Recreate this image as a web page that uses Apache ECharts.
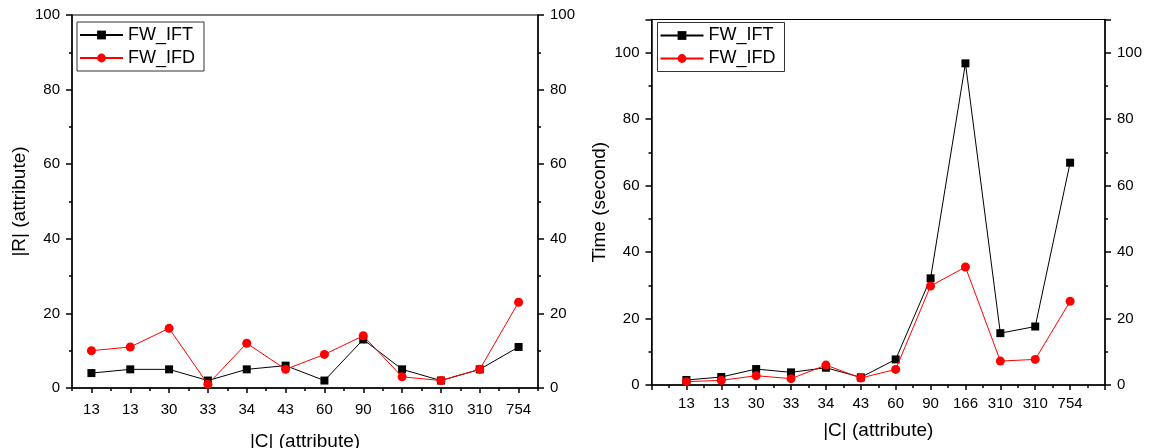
<!DOCTYPE html>
<html>
<head>
<meta charset="utf-8">
<script src="https://cdn.jsdelivr.net/npm/echarts@6/dist/echarts.min.js"></script>
<style>
  html, body { margin: 0; padding: 0; background: #fff; }
  #chart { width: 1149px; height: 448px; }
</style>
</head>
<body>
<div id="chart"></div>
<script>
var categories = ["13", "13", "30", "33", "34", "43", "60", "90", "166", "310", "310", "754"];
var seriesNames = ["FW_IFT", "FW_IFD"];
// left panel: |R|
var sizeIFT = [4, 5, 5, 2, 5, 6, 2, 13, 5, 2, 5, 11];
var sizeIFD = [10, 11, 16, 1, 12, 5, 9, 14, 3, 2, 5, 23];
// right panel: time in seconds
var timeIFT = [1.5, 2.4, 4.8, 3.8, 5.2, 2.3, 7.7, 32.1, 96.8, 15.6, 17.6, 66.9];
var timeIFD = [1.0, 1.4, 2.8, 1.9, 6.0, 2.1, 4.7, 29.8, 35.5, 7.2, 7.7, 25.2];

var font = 'Arial, "Liberation Sans", sans-serif';
var black = "#000";

function yAx(grid, pos, max, name, gap) {
  return {
    type: "value",
    gridIndex: grid,
    position: pos,
    min: 0,
    max: max,
    interval: 20,
    name: name || "",
    nameLocation: "middle",
    nameGap: gap || 0,
    nameTextStyle: { fontFamily: font, fontSize: 19, color: black },
    axisLine: { show: true, lineStyle: { color: black, width: 1.5 } },
    axisTick: { show: true, length: 6, lineStyle: { color: black, width: 1.5 } },
    minorTick: { show: true, splitNumber: 2, length: 3, lineStyle: { color: black, width: 1.5 } },
    axisLabel: { fontFamily: font, fontSize: 15, color: black, margin: 12, showMaxLabel: max === 100 },
    splitLine: { show: false },
    minorSplitLine: { show: false }
  };
}

function withIndex(arr) {
  return arr.map(function (v, i) { return [i + 1, v]; });
}

function lineSeries(name, x, y, data, isRect) {
  return {
    name: name,
    type: "line",
    xAxisIndex: x,
    yAxisIndex: y,
    data: data,
    symbol: isRect ? "rect" : "circle",
    symbolSize: isRect ? 8 : 9,
    showAllSymbol: true,
    itemStyle: { color: isRect ? black : "#ff0000" },
    lineStyle: { color: isRect ? black : "#ff0000", width: 1 },
    z: isRect ? 3 : 4
  };
}

function legendAt(left, top) {
  return {
    orient: "vertical",
    left: left,
    top: top,
    data: seriesNames,
    itemWidth: 43,
    itemHeight: 11,
    itemGap: 5,
    padding: [4, 9, 4, 2],
    borderColor: "#333",
    borderWidth: 1,
    backgroundColor: "#fff",
    selectedMode: false,
    textStyle: { fontFamily: font, fontSize: 18, lineHeight: 18, color: black }
  };
}

var chart = echarts.init(document.getElementById("chart"));
chart.setOption({
  animation: false,
  backgroundColor: "#fff",
  grid: [
    { left: 72, top: 15, width: 466, height: 373, outerBoundsMode: "none", containLabel: false, show: true, borderColor: black, borderWidth: 1, backgroundColor: "transparent" },
    { left: 651.5, top: 19.5, width: 453.5, height: 365.5, outerBoundsMode: "none", containLabel: false, show: true, borderColor: black, borderWidth: 1, backgroundColor: "transparent" }
  ],
  legend: [legendAt(77, 22), legendAt(657.5, 22.5)],
  xAxis: [
    {
      type: "category",
      gridIndex: 0,
      position: "bottom",
      data: categories,
      boundaryGap: true,
      name: "|C| (attribute)",
      nameLocation: "middle",
      nameGap: 44,
      nameTextStyle: { fontFamily: font, fontSize: 19, color: black },
      axisLine: { show: true, lineStyle: { color: black, width: 1.5 } },
      axisTick: { show: true, alignWithLabel: true, length: 5, lineStyle: { color: black, width: 1.5 } },
      axisLabel: { interval: 0, fontFamily: font, fontSize: 15, color: black, margin: 14 },
      splitLine: { show: false }
    },
    {
      type: "category",
      gridIndex: 0,
      position: "bottom",
      data: categories,
      boundaryGap: true,
      axisLine: { show: false },
      axisTick: { show: true, interval: 0, length: 3, lineStyle: { color: black, width: 1.5 } },
      axisLabel: { show: false },
      splitLine: { show: false }
    },
    {
      type: "value",
      gridIndex: 1,
      position: "bottom",
      min: 0,
      max: categories.length + 1,
      interval: 1,
      name: "|C| (attribute)",
      nameLocation: "middle",
      nameGap: 36,
      nameTextStyle: { fontFamily: font, fontSize: 19, color: black },
      axisLine: { show: true, lineStyle: { color: black, width: 1.5 } },
      axisTick: { show: true, length: 5, lineStyle: { color: black, width: 1.5 } },
      minorTick: { show: true, splitNumber: 2, length: 3, lineStyle: { color: black, width: 1.5 } },
      axisLabel: {
        fontFamily: font, fontSize: 15, color: black, margin: 11,
        formatter: function (v) { return categories[v - 1] || ""; }
      },
      splitLine: { show: false },
      minorSplitLine: { show: false }
    }
  ],
  yAxis: [
    yAx(0, "left", 100, "|R| (attribute)", 43),
    yAx(0, "right", 100),
    yAx(1, "left", 110, "Time (second)", 42),
    yAx(1, "right", 110)
  ],
  series: [
    lineSeries(seriesNames[0], 0, 0, sizeIFT, true),
    lineSeries(seriesNames[1], 0, 0, sizeIFD, false),
    lineSeries(seriesNames[0], 2, 2, withIndex(timeIFT), true),
    lineSeries(seriesNames[1], 2, 2, withIndex(timeIFD), false)
  ]
});
</script>
</body>
</html>
